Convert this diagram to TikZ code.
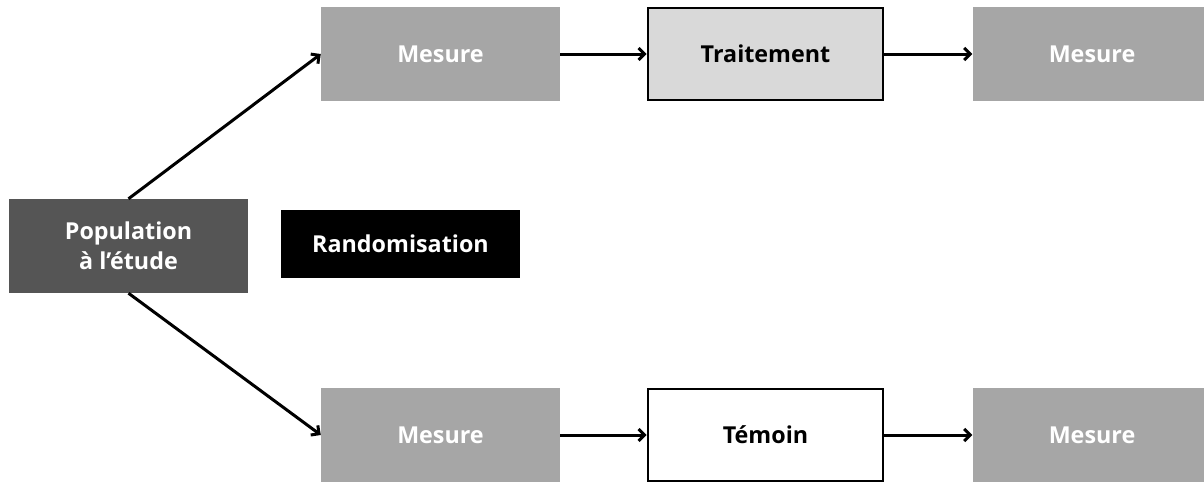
\documentclass[tikz,border=0pt]{standalone}
\usepackage{fontspec}
\setmainfont{Open Sans}
\usetikzlibrary{arrows.meta}
\definecolor{popgray}{HTML}{555555}
\definecolor{mesgray}{HTML}{A6A6A6}
\definecolor{trtgray}{HTML}{D9D9D9}
\tikzset{
  box/.style={minimum width=239pt, minimum height=94pt, inner sep=0pt, font=\fontsize{23.3}{30}\selectfont\bfseries, align=center},
  mesbox/.style={box, fill=mesgray, text=white},
  grpbox/.style={box, minimum width=235pt, minimum height=92pt, draw=black, line width=2.6pt, text=black},
  conn/.style={line width=3pt, -{Straight Barb[length=6pt,width=12pt,line width=3pt]}},
}
\begin{document}
\begin{tikzpicture}[x=1pt,y=-1pt]
\useasboundingbox (0,0) rectangle (1204,483);
\node[box, fill=popgray, text=white] (pop) at (128.5,246) {Population\\à l’étude};
\node[box, fill=black, text=white, minimum height=68pt] (rand) at (400.5,244) {Randomisation};
\node[mesbox] (m1) at (440.5,54) {Mesure};
\node[grpbox, fill=trtgray] (trt) at (765.5,54) {Traitement};
\node[mesbox] (m2) at (1092,54) {Mesure};
\node[mesbox] (m3) at (440.5,435) {Mesure};
\node[grpbox, fill=white] (tem) at (765.5,435) {Témoin};
\node[mesbox] (m4) at (1092,435) {Mesure};
\draw[conn] (pop.north) -- (m1.west);
\draw[conn] (pop.south) -- (m3.west);
\draw[conn] (m1) -- (trt);
\draw[conn] (trt) -- (m2);
\draw[conn] (m3) -- (tem);
\draw[conn] (tem) -- (m4);
\end{tikzpicture}
\end{document}
